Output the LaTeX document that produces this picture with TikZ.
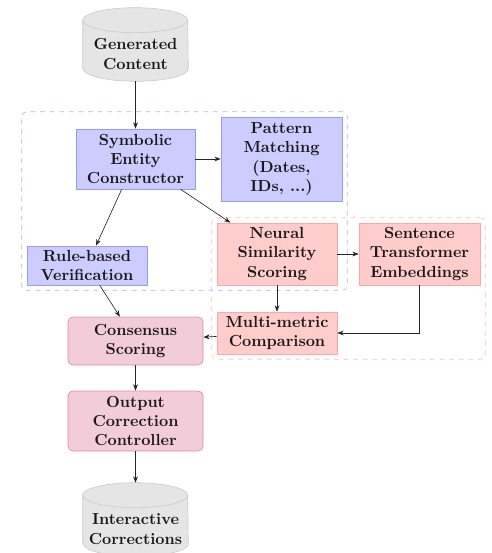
\documentclass[tikz,border=0pt]{standalone}
\usetikzlibrary{arrows.meta,fit}
% cylinder outline around a (blank) store node
\newcommand\drawstore[1]{%
  \path[storeshape] ([yshift=7.8pt]#1.south west) -- ([yshift=-7.8pt]#1.north west)
    arc[start angle=180, end angle=0, x radius=32.8pt, y radius=7.8pt]
    -- ([yshift=7.8pt]#1.south east)
    arc[start angle=360, end angle=180, x radius=32.8pt, y radius=7.8pt] -- cycle;
  \draw[gray!40] ([yshift=-7.8pt]#1.north west)
    arc[start angle=180, end angle=360, x radius=32.8pt, y radius=7.8pt];
}
\begin{document}
\begin{tikzpicture}[x=0.625pt,y=-0.625pt,
  every node/.style={font=\bfseries, align=center, inner sep=2pt, text=black!90},
  storebox/.style={rectangle, minimum width=65.6pt, minimum height=45.6pt, inner sep=0pt},
  storeshape/.style={fill=gray!20, draw=gray!40},
  symb/.style={rectangle, draw=blue!40, fill=blue!20},
  neur/.style={rectangle, draw=red!35, fill=red!20},
  ctrl/.style={rectangle, rounded corners=3pt, draw=purple!45, fill=purple!20,
    minimum width=84.4pt},
  group/.style={draw, dashed, rounded corners=3pt, inner sep=3.1pt},
  link/.style={-{Stealth[length=4pt,width=3pt]}, draw=black!85}]
\useasboundingbox (0,0) rectangle (491,553);

% data stores
\node[storebox] (gen) at (135.5,44.5) {};
\node[storebox] (inter) at (135.5,519.5) {};
\drawstore{gen}
\drawstore{inter}
\node (gentext) at (135.5,54) {Generated\\Content};
\node (intertext) at (135.5,529) {Interactive\\Corrections};

% symbolic branch
\node[symb, minimum width=74.4pt, minimum height=37.5pt] (sym) at (135.5,159)
  {Symbolic\\Entity\\Constructor};
\node[symb, minimum width=75.6pt, minimum height=52.5pt] (pat) at (281.5,159)
  {Pattern\\Matching\\(Dates,\\IDs, ...)};
\node[symb, minimum width=75pt, minimum height=24.4pt] (rule) at (87,265.5)
  {Rule-based\\Verification};

% neural branch
\node[neur, minimum width=75pt, minimum height=38.75pt] (neural) at (277,254)
  {Neural\\Similarity\\Scoring};
\node[neur, minimum width=75.6pt, minimum height=38.75pt] (sent) at (419.5,254)
  {Sentence\\Transformer\\Embeddings};
\node[neur, minimum width=75pt, minimum height=26.25pt] (multi) at (277,333)
  {Multi-metric\\Comparison};

% combination and output
\node[ctrl, minimum height=30pt] (cons) at (135.5,341) {Consensus\\Scoring};
\node[ctrl, minimum height=37.5pt] (out) at (135.5,421)
  {Output\\Correction\\Controller};

% module groupings
\node[group, draw=blue!30, fit=(sym)(pat)(rule)] (symgroup) {};
\node[group, draw=red!25, fit=(neural)(sent)(multi)] (neugroup) {};

% flow
\draw[link] (gen) -- (sym);
\draw[link] (sym) -- (pat);
\draw[link] (sym) -- (rule);
\draw[link] (sym) -- (neural);
\draw[link] (rule) -- (cons);
\draw[link] (neural) -- (sent);
\draw[link] (neural) -- (multi);
\draw[link] (sent) |- (multi);
\draw[link] (multi) -- (cons);
\draw[link] (cons) -- (out);
\draw[link] (out) -- (inter);
\end{tikzpicture}
\end{document}
